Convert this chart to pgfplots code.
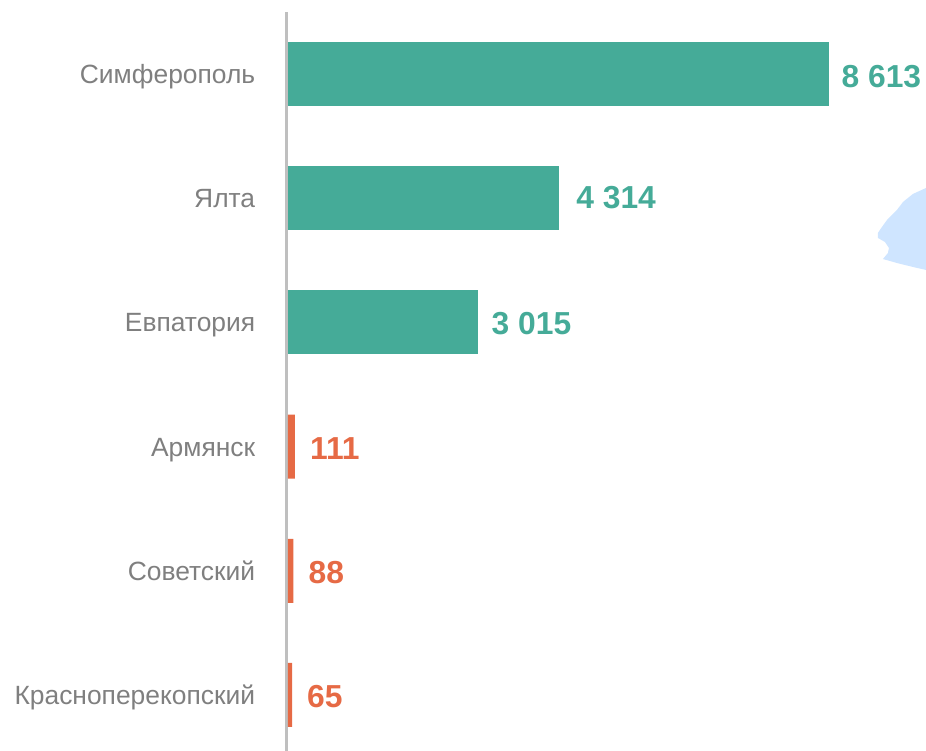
\documentclass[border=0pt]{standalone}
\usepackage{fontspec}
\setmainfont{Liberation Sans}
\usepackage{pgfplots}
\pgfplotsset{compat=1.18}
\definecolor{teal1}{HTML}{45AB98}
\definecolor{orange1}{HTML}{E66A45}
\definecolor{blob}{HTML}{CFE5FF}
\definecolor{lab}{HTML}{7F7F7F}
\definecolor{axl}{HTML}{BFBFBF}
\begin{document}
\begin{tikzpicture}
\path[use as bounding box] (-286.7pt,0pt) rectangle (639.3pt,751pt);
\begin{axis}[
  at={(0pt,0pt)}, anchor=south west,
  scale only axis, width=639.3pt, height=739pt,
  xmin=-20, xmax=10149, ymin=-0.451, ymax=5.499,
  axis x line=none,
  axis y line=left,
  axis line style={draw=axl, line width=2.4pt, -},
  major tick length=0pt,
  ytick={0,1,2,3,4,5},
  yticklabels={Красноперекопский,Советский,Армянск,Евпатория,Ялта,Симферополь},
  yticklabel style={font=\fontsize{26.4}{31}\selectfont, text=lab, anchor=base east, xshift=-28pt, yshift=-9.5pt},
  clip=false,
  point meta=x,
  nodes near coords={\pgfmathprintnumber[assume math mode=true,1000 sep={\ }]{\pgfplotspointmeta}},
  every node near coord/.append style={font=\fontsize{31.8}{37}\selectfont\bfseries, anchor=west},
]
\addplot[fill=blob, draw=none, forget plot, nodes near coords={}] coordinates {
 (10149,4.082)(9941,4.034)(9782,3.969)(9687,3.905)(9528,3.824)(9448,3.768)(9384,3.720)(9384,3.680)
 (9496,3.647)(9559,3.599)(9544,3.559)(9464,3.510)(9687,3.478)(9941,3.446)(10149,3.422)} --cycle;
\addplot[xbar, bar shift=0pt, bar width=64pt, fill=teal1, draw=none, every node near coord/.append style={text=teal1, inner xsep=14pt, yshift=-1pt}] coordinates {(3015,3)};
\addplot[xbar, bar shift=0pt, bar width=64pt, fill=teal1, draw=none, every node near coord/.append style={text=teal1, inner xsep=17pt, yshift=0.5pt}] coordinates {(4314,4)};
\addplot[xbar, bar shift=0pt, bar width=64pt, fill=teal1, draw=none, every node near coord/.append style={text=teal1, inner xsep=12pt, yshift=-3pt}] coordinates {(8613,5)};
\addplot[xbar, bar shift=0pt, bar width=64pt, fill=orange1, draw=none, every node near coord/.append style={text=orange1, inner xsep=15pt, yshift=-1.5pt}] coordinates {(65,0)(88,1)(111,2)};
\end{axis}
\end{tikzpicture}
\end{document}
